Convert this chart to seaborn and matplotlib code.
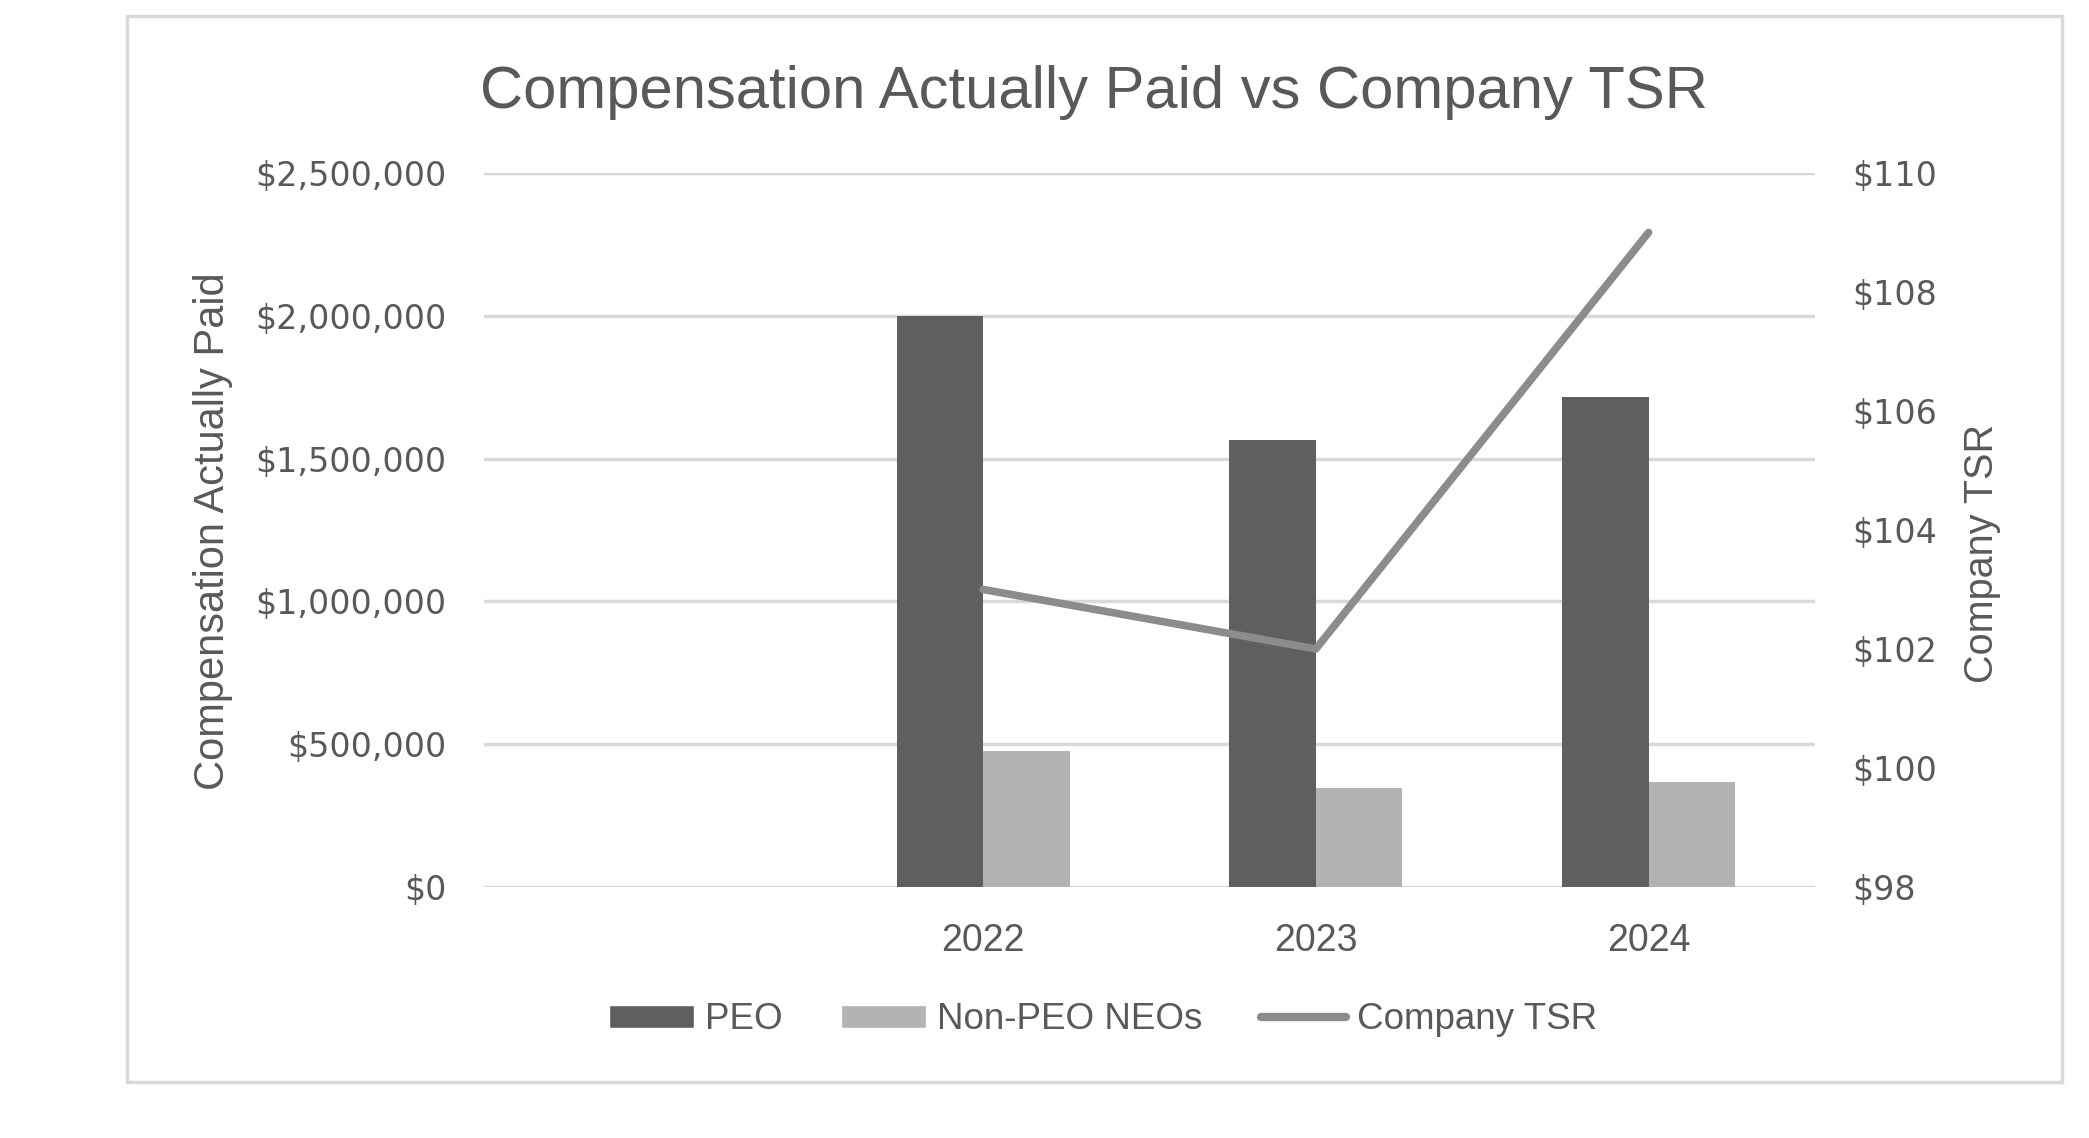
"""
Compensation Actually Paid vs Company TSR - combo chart (bars + TSR line on secondary axis).
Writes: out.png
"""

import pandas as pd
import matplotlib.pyplot as plt
import seaborn as sns
from matplotlib.patches import Rectangle, Patch
from matplotlib.lines import Line2D
from matplotlib.ticker import FuncFormatter

# Data (first category is empty in the source chart)
years = ["", "2022", "2023", "2024"]
peo_cap = [None, 2000000, 1565000, 1715000]
non_peo_cap = [None, 477000, 346000, 369000]
company_tsr = [None, 103.0, 102.0, 109.0]

PEO_COLOR = "#5f5f5f"
NEO_COLOR = "#b3b3b3"
TSR_COLOR = "#8c8c8c"
GRID_COLOR = "#d9d9d9"
TEXT_COLOR = "#595959"

sns.set_theme(style="white")
plt.rcParams["font.family"] = ["Liberation Sans", "DejaVu Sans"]

rows = []
for y, p, n in zip(years, peo_cap, non_peo_cap):
    if p is not None:
        rows.append({"Year": y, "Group": "PEO", "CAP": p})
        rows.append({"Year": y, "Group": "Non-PEO NEOs", "CAP": n})
df = pd.DataFrame(rows)

fig = plt.figure(figsize=(20.89, 11.38), dpi=100)
ax = fig.add_axes([0.2317, 0.2206, 0.6371, 0.6274])

sns.barplot(data=df, x="Year", y="CAP", hue="Group", order=years,
            hue_order=["PEO", "Non-PEO NEOs"],
            palette=[PEO_COLOR, NEO_COLOR], width=0.52, gap=0,
            saturation=1, ax=ax, legend=False, linewidth=0)

ax.set_ylim(0, 2500000)
ax.set_yticks(range(0, 2500001, 500000))
ax.yaxis.set_major_formatter(FuncFormatter(lambda v, _: f"${v:,.0f}"))
ax.set_xlim(-0.5, len(years) - 0.5)
ax.grid(axis="y", color=GRID_COLOR, linewidth=2.5)
ax.set_axisbelow(True)
for s in ax.spines.values():
    s.set_visible(False)
ax.set_xlabel("")
ax.set_ylabel("")
ax.tick_params(axis="x", length=0, pad=26, labelsize=27, labelcolor=TEXT_COLOR)
ax.tick_params(axis="y", length=0, pad=27, labelsize=24, labelcolor=TEXT_COLOR)
for lab in ax.get_yticklabels():
    lab.set_family("DejaVu Sans")

# TSR line on secondary axis
ax2 = ax.twinx()
tsr_x = [i for i, v in enumerate(company_tsr) if v is not None]
tsr_y = [v for v in company_tsr if v is not None]
sns.lineplot(x=tsr_x, y=tsr_y, ax=ax2, color=TSR_COLOR, linewidth=5.5,
             solid_capstyle="round", solid_joinstyle="round", sort=False)
ax2.set_ylim(98, 110)
ax2.set_yticks(range(98, 111, 2))
ax2.yaxis.set_major_formatter(FuncFormatter(lambda v, _: f"${v:,.0f}"))
for s in ax2.spines.values():
    s.set_visible(False)
ax2.grid(False)
ax2.tick_params(axis="y", length=0, pad=27, labelsize=24, labelcolor=TEXT_COLOR)
for lab in ax2.get_yticklabels():
    lab.set_family("DejaVu Sans")
ax2.set_ylabel("")

# Titles and axis labels
fig.text(0.5237, 0.919, "Compensation Actually Paid vs Company TSR",
         ha="center", va="center", fontsize=43, color=TEXT_COLOR)
fig.text(0.102, 0.5335, "Compensation Actually Paid", rotation=90,
         ha="center", va="center", fontsize=30, color=TEXT_COLOR)
fig.text(0.949, 0.514, "Company TSR", rotation=90,
         ha="center", va="center", fontsize=28.5, color=TEXT_COLOR)

# Legend
handles = [Patch(facecolor=PEO_COLOR, label="PEO"),
           Patch(facecolor=NEO_COLOR, label="Non-PEO NEOs"),
           Line2D([], [], color=TSR_COLOR, linewidth=6, solid_capstyle="round",
                  label="Company TSR")]
fig.legend(handles=handles, loc="center", bbox_to_anchor=(0.528, 0.1037),
           ncol=3, frameon=False, fontsize=26.5, labelcolor=TEXT_COLOR,
           handlelength=2.3, handleheight=0.57, handletextpad=0.3,
           columnspacing=1.6)

# Outer chart border
fig.patches.append(Rectangle((127 / 2089, 1 - 1082 / 1138),
                             (2062 - 127) / 2089, (1082 - 16) / 1138,
                             transform=fig.transFigure, fill=False,
                             edgecolor=GRID_COLOR, linewidth=2.5))

fig.savefig("out.png", dpi=100, facecolor="white")
